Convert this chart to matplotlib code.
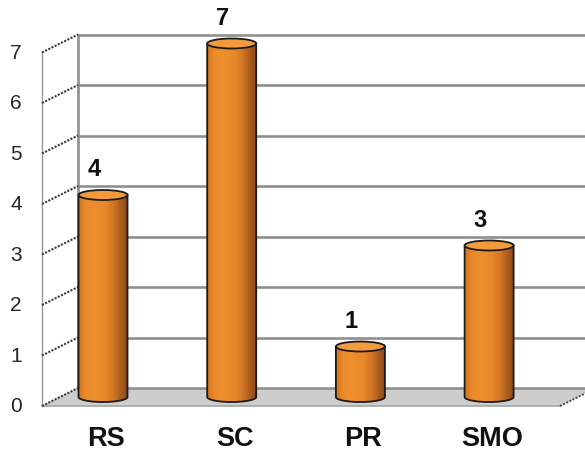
import matplotlib
matplotlib.use("Agg")
import matplotlib.pyplot as plt
import numpy as np
from matplotlib.patches import Ellipse, PathPatch, Polygon
from matplotlib.path import Path
from matplotlib.colors import LinearSegmentedColormap
from matplotlib.transforms import offset_copy

plt.rcParams['font.family'] = ['Liberation Sans', 'DejaVu Sans']

categories = ["RS", "SC", "PR", "SMO"]
values = [4, 7, 1, 3]
y_ticks = [0, 1, 2, 3, 4, 5, 6, 7]

W_PX, H_PX = 585, 456
fig = plt.figure(figsize=(W_PX / 100, H_PX / 100), dpi=100)
ax = fig.add_axes([0, 0, 1, 1])
ax.set_axis_off()

# one category step is ~128.7 px, one value unit ~50.5 px (mid-depth plane)
x0, x1 = -103 / 128.7, (W_PX - 103) / 128.7
y0, y1 = -58 / 50.5, (H_PX - 58) / 50.5
ax.set_xlim(x0, x1)
ax.set_ylim(y0, y1)
sx = (x1 - x0) / W_PX
sy = (y1 - y0) / H_PX

# half depth of the pseudo-3D box
dx, dy = 18 * sx, 9 * sy
left, right = -43 * sx, 475 * sx
top = max(y_ticks)

grid_col = "#8f8f8f"

# floor
floor = Polygon([(left - dx, -dy), (right - dx, -dy), (right + dx, dy), (left + dx, dy)],
                closed=True, facecolor="#cdcdcd", edgecolor="none", zorder=1)
ax.add_patch(floor)
ax.plot([left - dx, right - dx], [-dy, -dy], color="#a5a5a5", lw=1.2, zorder=1.5)
ax.plot([right - dx, right + dx], [-dy, dy], color="#444444", lw=1.4,
        ls=(0, (1, 0.8)), zorder=1.5)

# back wall gridlines and edge
for v in y_ticks:
    ax.plot([left + dx, right + dx], [v + dy, v + dy], color=grid_col, lw=1.9,
            solid_capstyle="butt", zorder=2)
ax.plot([left + dx, left + dx], [dy, top + dy], color=grid_col, lw=1.9, zorder=2)

# left wall: front edge and slanted dotted tick lines
ax.plot([left - dx, left - dx], [-dy, top - dy], color="#9a9a9a", lw=1.0, zorder=2)
for v in y_ticks:
    ax.plot([left - dx, left + dx], [v - dy, v + dy], color="#3a3a3a", lw=1.5,
            ls=(0, (1, 0.7)), zorder=2)
    ax.text(left - dx, v - dy, str(v), fontsize=15, color="#262626",
            ha="center", va="center",
            transform=offset_copy(ax.transData, fig=fig, x=-26, y=0, units="dots"))

# cylinder bars
bar_cmap = LinearSegmentedColormap.from_list(
    "cyl", ["#d3741d", "#ea892a", "#ee8f2e", "#ec8c2c", "#e6872a", "#d27725", "#b0601e",
            "#8c4a17"])
grad = np.linspace(0, 1, 200).reshape(1, -1)
w = 49 * sx
h = 10 * sy

for i, (cat, val) in enumerate(zip(categories, values)):
    xc = i
    a = np.linspace(np.pi, 2 * np.pi, 60)
    verts = [(xc - w / 2, val), (xc - w / 2, 0)]
    verts += list(zip(xc + w / 2 * np.cos(a), h / 2 * np.sin(a)))
    verts += [(xc + w / 2, val), (xc - w / 2, val)]
    body = PathPatch(Path(verts), facecolor="none", edgecolor="#1a1a1a", lw=1.3, zorder=5)
    ax.add_patch(body)
    im = ax.imshow(grad, extent=(xc - w / 2, xc + w / 2, -h / 2, val), aspect="auto",
                   cmap=bar_cmap, zorder=4, interpolation="bilinear")
    im.set_clip_path(body)
    ax.add_patch(Ellipse((xc, val), w, h, facecolor="#f29a3c", edgecolor="#1a1a1a",
                         lw=1.3, zorder=6))
    ax.text(xc, val, str(val), fontsize=17, fontweight="bold", color="#111111",
            ha="center", va="center",
            transform=offset_copy(ax.transData, fig=fig, x=-9, y=26, units="dots"))
    ax.text(xc, 0, cat, fontsize=19.5, fontweight="bold", color="#111111",
            ha="center", va="center",
            transform=offset_copy(ax.transData, fig=fig, x=3, y=-41.5, units="dots"))

ax.set_xlim(x0, x1)
ax.set_ylim(y0, y1)
fig.savefig("out.png", dpi=100)
